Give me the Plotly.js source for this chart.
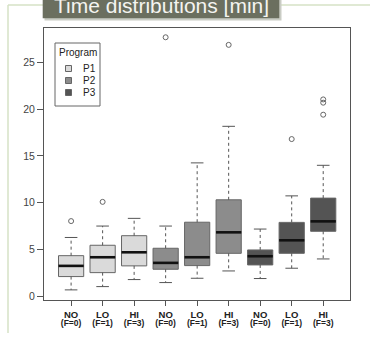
<!DOCTYPE html>
<html>
<head>
<meta charset="utf-8">
<script src="https://cdn.plot.ly/plotly-3.0.1.min.js"></script>
<style>html,body{margin:0;padding:0;background:#fff;}#chart{width:370px;height:342px;}</style>
</head>
<body>
<div id="chart"></div>
<script>
// ---- data ----
const programs = ['P1', 'P2', 'P3'];
const levels = ['NO', 'LO', 'HI'];
const fLabels = ['(F=0)', '(F=1)', '(F=3)'];
// 9 boxes: P1 NO, P1 LO, P1 HI, P2 NO, P2 LO, P2 HI, P3 NO, P3 LO, P3 HI
const whiskerLow = [0.71, 1.06, 1.81, 1.49, 1.95, 2.73, 1.92, 3.02, 4.01];
const q1 = [2.13, 2.55, 3.27, 2.91, 3.30, 4.61, 3.37, 4.61, 6.96];
const median = [3.27, 4.19, 4.72, 3.59, 4.19, 6.85, 4.30, 6.00, 8.02];
const q3 = [4.36, 5.47, 6.49, 5.15, 7.93, 10.32, 4.97, 7.91, 10.50];
const whiskerHigh = [6.30, 7.52, 8.34, 7.52, 14.26, 18.16, 7.20, 10.74, 14.00];
const outlierBox = [1, 2, 4, 6, 8, 9, 9, 9];
const outlierValue = [8.05, 10.10, 27.66, 26.85, 16.80, 21.03, 20.68, 19.40];

const fillColors = ['#dadada', '#8c8c8c', '#545454'];
const font = '"Liberation Sans", Arial, Helvetica, sans-serif';

// pixel helpers for annotations / decorations (plot area 44..350 x 28..300)
const L = 44, R = 350, T = 28, B = 300;
const px = v => (v - L) / (R - L);
const py = v => (B - v) / (B - T);

const traces = [];
const pos = median.map((_, i) => i + 1);

programs.forEach((p, g) => {
  const idx = [0, 1, 2].map(k => g * 3 + k);
  traces.push({
    type: 'box',
    name: p,
    x: idx.map(i => pos[i]),
    q1: idx.map(i => q1[i]),
    median: idx.map(i => median[i]),
    q3: idx.map(i => q3[i]),
    lowerfence: idx.map(i => q1[i]),
    upperfence: idx.map(i => q3[i]),
    width: 0.8,
    whiskerwidth: 0,
    fillcolor: fillColors[g],
    line: {color: '#666666', width: 1},
    boxpoints: false,
    hoverinfo: 'skip',
    showlegend: false
  });
});

// whiskers (dashed), caps, medians
const wx = [], wy = [], cx = [], cy = [], mx = [], my = [];
pos.forEach((x, i) => {
  wx.push(x, x, null, x, x, null);
  wy.push(q3[i], whiskerHigh[i], null, q1[i], whiskerLow[i], null);
  cx.push(x - 0.2, x + 0.2, null, x - 0.2, x + 0.2, null);
  cy.push(whiskerHigh[i], whiskerHigh[i], null, whiskerLow[i], whiskerLow[i], null);
  mx.push(x - 0.4, x + 0.4, null);
  my.push(median[i], median[i], null);
});
traces.push({type: 'scatter', mode: 'lines', x: wx, y: wy, line: {color: '#555', width: 1, dash: '3px,3px'}, hoverinfo: 'skip', showlegend: false});
traces.push({type: 'scatter', mode: 'lines', x: cx, y: cy, line: {color: '#555', width: 1}, hoverinfo: 'skip', showlegend: false});
traces.push({type: 'scatter', mode: 'lines', x: mx, y: my, line: {color: '#111', width: 2.6}, hoverinfo: 'skip', showlegend: false});
traces.push({type: 'scatter', mode: 'markers', x: outlierBox, y: outlierValue,
  marker: {symbol: 'circle-open', size: 5, color: '#666', line: {width: 1, color: '#666'}}, hoverinfo: 'skip', showlegend: false});

const tickText = pos.map((_, i) =>
  '<span style="font-size:9.5px"><b>' + levels[i % 3] + '</b></span><br><span style="font-size:8.5px"><b>' + fLabels[i % 3] + '</b></span>');

const shapes = [];
const annotations = [];
// slide frame lines
shapes.push({type: 'line', xref: 'paper', yref: 'paper', x0: px(8), x1: px(372), y0: py(5), y1: py(5), line: {color: '#d6e2c6', width: 1.5}});
shapes.push({type: 'line', xref: 'paper', yref: 'paper', x0: px(8), x1: px(8), y0: py(5), y1: py(333), line: {color: '#d6e2c6', width: 1.5}});
// banner shadow + banner
shapes.push({type: 'rect', xref: 'paper', yref: 'paper', x0: px(44.5), x1: px(281.5), y0: py(20.5), y1: py(-5), fillcolor: '#c9ccc4', line: {width: 0}});
shapes.push({type: 'rect', xref: 'paper', yref: 'paper', x0: px(42.7), x1: px(279.3), y0: py(18.3), y1: py(-5), fillcolor: '#6b6f5f', line: {width: 0}});
annotations.push({xref: 'paper', yref: 'paper', x: px(52), y: py(5), xanchor: 'left', yanchor: 'middle', showarrow: false,
  text: 'Time distributions [min]', font: {family: font, size: 21, color: '#f4f4f0'}});

// legend
shapes.push({type: 'rect', xref: 'paper', yref: 'paper', x0: px(55), x1: px(100), y0: py(106), y1: py(43), fillcolor: '#fff', line: {color: '#666', width: 1}});
annotations.push({xref: 'paper', yref: 'paper', x: px(77.5), y: py(52.5), xanchor: 'center', yanchor: 'middle', showarrow: false,
  text: 'Program', font: {family: font, size: 10, color: '#222'}});
programs.forEach((p, g) => {
  const cyy = 68.5 + g * 12;
  shapes.push({type: 'rect', xref: 'paper', yref: 'paper', x0: px(65.5), x1: px(71.5), y0: py(cyy + 3), y1: py(cyy - 3),
    fillcolor: fillColors[g], line: {color: '#666', width: 1}});
  annotations.push({xref: 'paper', yref: 'paper', x: px(80.5), y: py(cyy), xanchor: 'left', yanchor: 'middle', showarrow: false,
    text: p, font: {family: font, size: 10, color: '#222'}});
});

const layout = {
  width: 370, height: 342,
  margin: {l: L, r: 370 - R, t: T, b: 342 - B, pad: 0},
  paper_bgcolor: '#ffffff', plot_bgcolor: '#ffffff',
  showlegend: false,
  font: {family: font, color: '#333'},
  xaxis: {
    range: [0.14, 9.85], tickmode: 'array', tickvals: pos, ticktext: tickText,
    showgrid: false, zeroline: false, showline: true, mirror: true, linecolor: '#555', linewidth: 1,
    ticks: 'outside', ticklen: 5, tickcolor: '#555', tickwidth: 1,
    tickfont: {family: font, size: 6.5, color: '#222'}, ticklabelstandoff: 4
  },
  yaxis: {
    range: [-0.37, 28.65], tickmode: 'array', tickvals: [0, 5, 10, 15, 20, 25],
    showgrid: false, zeroline: false, showline: true, mirror: true, linecolor: '#555', linewidth: 1,
    ticks: 'outside', ticklen: 6, tickcolor: '#555', tickwidth: 1,
    tickfont: {family: font, size: 10.5, color: '#444'}
  },
  shapes: shapes,
  annotations: annotations
};

Plotly.newPlot('chart', traces, layout, {staticPlot: true, displayModeBar: false});
</script>
</body>
</html>
